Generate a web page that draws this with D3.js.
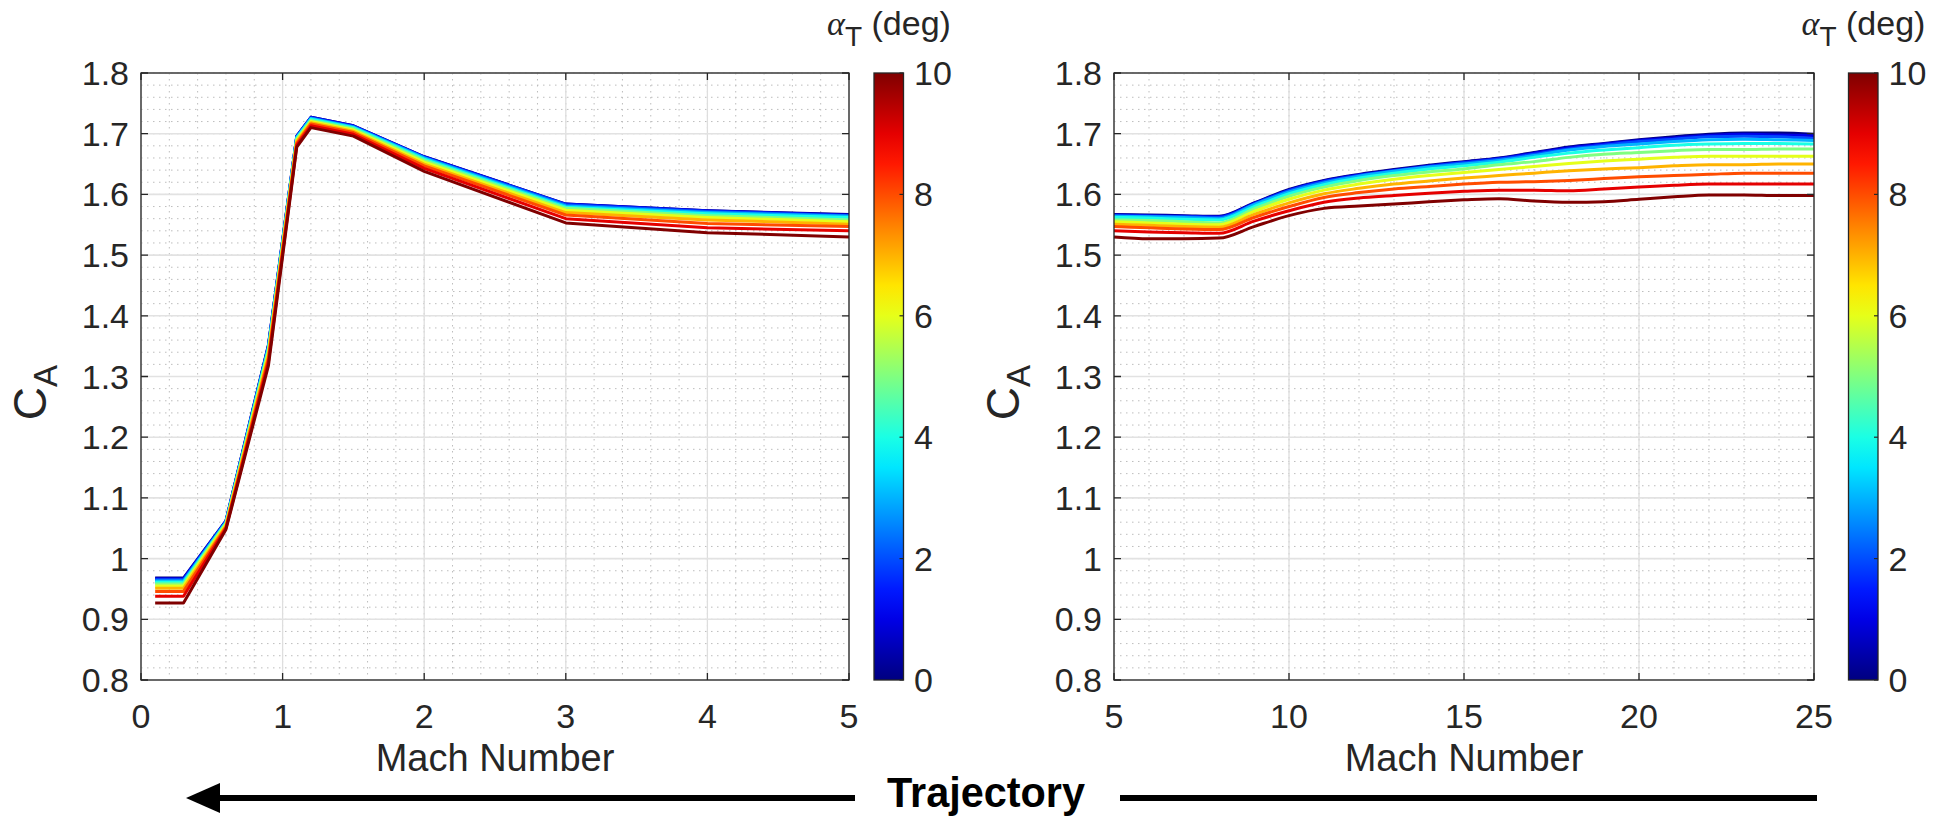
<!DOCTYPE html>
<html>
<head>
<meta charset="utf-8">
<script src="https://cdn.jsdelivr.net/npm/d3@7/dist/d3.min.js"></script>
<style>
  body { margin: 0; background: #fff; }
  svg { display: block; font-family: "Liberation Sans", Arial, Helvetica, sans-serif; }
</style>
</head>
<body>
<svg id="chart" width="1941" height="818"></svg>
<script>
// total angle of attack for each curve (deg)
const alphas = [0, 1, 2, 3, 4, 5, 6, 7, 8, 9, 10];

// low Mach panel
const machLow = [0.1, 0.3, 0.6, 0.9, 1.1, 1.2, 1.5, 2, 3, 4, 5];
const caLow = [
  [0.968, 0.968, 1.062, 1.352, 1.696, 1.727, 1.713, 1.662, 1.584, 1.573, 1.567],
  [0.967, 0.967, 1.062, 1.351, 1.696, 1.727, 1.713, 1.662, 1.584, 1.573, 1.566],
  [0.965, 0.965, 1.061, 1.350, 1.695, 1.726, 1.712, 1.661, 1.583, 1.572, 1.565],
  [0.963, 0.963, 1.060, 1.348, 1.694, 1.725, 1.711, 1.660, 1.581, 1.570, 1.564],
  [0.961, 0.961, 1.059, 1.346, 1.693, 1.724, 1.710, 1.658, 1.579, 1.568, 1.562],
  [0.958, 0.958, 1.058, 1.343, 1.691, 1.722, 1.708, 1.656, 1.577, 1.565, 1.558],
  [0.955, 0.955, 1.056, 1.339, 1.689, 1.720, 1.706, 1.653, 1.574, 1.562, 1.555],
  [0.951, 0.951, 1.054, 1.335, 1.687, 1.718, 1.704, 1.650, 1.570, 1.558, 1.551],
  [0.946, 0.946, 1.052, 1.330, 1.684, 1.716, 1.702, 1.647, 1.566, 1.552, 1.547],
  [0.938, 0.938, 1.050, 1.324, 1.681, 1.713, 1.699, 1.643, 1.560, 1.545, 1.540],
  [0.927, 0.927, 1.048, 1.318, 1.678, 1.710, 1.696, 1.638, 1.553, 1.537, 1.530]
];

// high Mach panel
const machHigh = [5, 6, 7, 8, 9, 10, 11, 12, 13, 14, 15, 16, 17, 18, 19, 20, 21, 22, 23, 24, 25];
const caHigh = [
  [1.567, 1.566, 1.565, 1.564, 1.586, 1.608, 1.623, 1.633, 1.641, 1.648, 1.654, 1.660, 1.669, 1.678, 1.684, 1.690, 1.695, 1.699, 1.701, 1.701, 1.699],
  [1.566, 1.565, 1.564, 1.563, 1.585, 1.607, 1.622, 1.632, 1.640, 1.647, 1.653, 1.659, 1.668, 1.677, 1.683, 1.689, 1.693, 1.697, 1.699, 1.698, 1.697],
  [1.565, 1.564, 1.563, 1.562, 1.584, 1.606, 1.621, 1.631, 1.639, 1.646, 1.652, 1.658, 1.666, 1.675, 1.681, 1.687, 1.691, 1.695, 1.696, 1.695, 1.692],
  [1.564, 1.563, 1.562, 1.560, 1.583, 1.604, 1.619, 1.630, 1.638, 1.645, 1.650, 1.656, 1.664, 1.673, 1.679, 1.683, 1.687, 1.690, 1.691, 1.690, 1.689],
  [1.562, 1.561, 1.559, 1.558, 1.580, 1.601, 1.616, 1.627, 1.635, 1.642, 1.647, 1.653, 1.661, 1.668, 1.673, 1.677, 1.681, 1.683, 1.684, 1.684, 1.683],
  [1.558, 1.557, 1.555, 1.553, 1.576, 1.597, 1.612, 1.623, 1.631, 1.637, 1.642, 1.649, 1.654, 1.661, 1.666, 1.669, 1.672, 1.674, 1.674, 1.675, 1.675],
  [1.555, 1.553, 1.551, 1.550, 1.572, 1.592, 1.607, 1.617, 1.625, 1.631, 1.636, 1.641, 1.646, 1.651, 1.655, 1.658, 1.661, 1.663, 1.663, 1.663, 1.663],
  [1.551, 1.549, 1.547, 1.546, 1.567, 1.586, 1.601, 1.610, 1.617, 1.622, 1.627, 1.631, 1.635, 1.639, 1.642, 1.644, 1.647, 1.649, 1.649, 1.650, 1.650],
  [1.547, 1.545, 1.543, 1.542, 1.562, 1.580, 1.595, 1.603, 1.609, 1.613, 1.617, 1.620, 1.621, 1.623, 1.626, 1.629, 1.631, 1.633, 1.635, 1.635, 1.635],
  [1.540, 1.538, 1.537, 1.536, 1.556, 1.573, 1.587, 1.594, 1.598, 1.602, 1.605, 1.607, 1.607, 1.606, 1.609, 1.612, 1.615, 1.617, 1.617, 1.617, 1.617],
  [1.530, 1.527, 1.527, 1.528, 1.547, 1.565, 1.577, 1.581, 1.584, 1.588, 1.591, 1.593, 1.589, 1.587, 1.588, 1.592, 1.596, 1.599, 1.599, 1.598, 1.598]
];

const yTicks = [0.8, 0.9, 1, 1.1, 1.2, 1.3, 1.4, 1.5, 1.6, 1.7, 1.8];
const xTicksLow = [0, 1, 2, 3, 4, 5];
const xTicksHigh = [5, 10, 15, 20, 25];
const cbTicks = [0, 2, 4, 6, 8, 10];

const txt = "#262626";
const svg = d3.select("#chart");

// MATLAB-style jet colormap
function jet(t) {
  const c = v => Math.round(255 * Math.max(0, Math.min(1, v)));
  return d3.rgb(c(1.5 - Math.abs(4 * t - 3)), c(1.5 - Math.abs(4 * t - 2)), c(1.5 - Math.abs(4 * t - 1))).formatHex();
}

const defs = svg.append("defs");
const grad = defs.append("linearGradient").attr("id", "jetGrad")
  .attr("x1", 0).attr("y1", 1).attr("x2", 0).attr("y2", 0);
d3.range(0, 1.0001, 0.05).forEach(t => {
  grad.append("stop").attr("offset", t).attr("stop-color", jet(t));
});

const plotTop = 73, plotBottom = 680;

function panel(opt) {
  const x = d3.scaleLinear().domain(opt.xDomain).range([opt.left, opt.right]);
  const y = d3.scaleLinear().domain([0.8, 1.8]).range([plotBottom, plotTop]);
  const g = svg.append("g");

  // minor grid
  g.append("g").selectAll("line").data(opt.xMinor).join("line")
    .attr("x1", d => x(d)).attr("x2", d => x(d)).attr("y1", plotTop).attr("y2", plotBottom)
    .attr("stroke", "#bdbdbd").attr("stroke-width", 1).attr("stroke-dasharray", "1.5,4.5");
  g.append("g").selectAll("line").data(d3.range(0.82, 1.8, 0.02)).join("line")
    .attr("x1", opt.left).attr("x2", opt.right).attr("y1", d => y(d)).attr("y2", d => y(d))
    .attr("stroke", "#bdbdbd").attr("stroke-width", 1).attr("stroke-dasharray", "1.5,4.5");

  // major grid
  g.append("g").selectAll("line").data(opt.xTicks).join("line")
    .attr("x1", d => x(d)).attr("x2", d => x(d)).attr("y1", plotTop).attr("y2", plotBottom)
    .attr("stroke", "#dedede").attr("stroke-width", 1.3);
  g.append("g").selectAll("line").data(yTicks).join("line")
    .attr("x1", opt.left).attr("x2", opt.right).attr("y1", d => y(d)).attr("y2", d => y(d))
    .attr("stroke", "#e2e2e2").attr("stroke-width", 1.6);

  // curves
  const line = d3.line().x(d => x(d[0])).y(d => y(d[1])).curve(opt.curve);
  const series = alphas.map((a, j) => ({ a, pts: opt.mach.map((m, i) => [m, opt.ca[j][i]]) }));
  g.append("g").selectAll("path").data(series).join("path")
    .attr("d", d => line(d.pts))
    .attr("fill", "none")
    .attr("stroke", d => jet(d.a / 10))
    .attr("stroke-width", 3)
    .attr("stroke-linejoin", "round");

  // box and ticks
  g.append("rect").attr("x", opt.left).attr("y", plotTop)
    .attr("width", opt.right - opt.left).attr("height", plotBottom - plotTop)
    .attr("fill", "none").attr("stroke", txt).attr("stroke-width", 1.3);
  const tl = 7;
  g.append("g").selectAll("path").data(opt.xTicks).join("path")
    .attr("d", d => `M${x(d)},${plotBottom}v${-tl}M${x(d)},${plotTop}v${tl}`)
    .attr("stroke", txt).attr("stroke-width", 1.3);
  g.append("g").selectAll("path").data(yTicks).join("path")
    .attr("d", d => `M${opt.left},${y(d)}h${tl}M${opt.right},${y(d)}h${-tl}`)
    .attr("stroke", txt).attr("stroke-width", 1.3);

  // tick labels
  g.append("g").selectAll("text").data(opt.xTicks).join("text")
    .attr("x", d => x(d)).attr("y", 728).attr("text-anchor", "middle")
    .attr("font-size", 34).attr("fill", txt).text(d => d);
  g.append("g").selectAll("text").data(yTicks).join("text")
    .attr("x", opt.left - 12).attr("y", d => y(d) + 12).attr("text-anchor", "end")
    .attr("font-size", 34).attr("fill", txt).text(d => String(+d.toFixed(1)));

  // axis labels
  g.append("text").attr("x", (opt.left + opt.right) / 2).attr("y", 771)
    .attr("text-anchor", "middle").attr("font-size", 38).attr("fill", txt).text("Mach Number");
  const yl = g.append("text").attr("transform", `translate(${opt.left - 95},${(plotTop + plotBottom) / 2 + 16}) rotate(-90)`)
    .attr("text-anchor", "middle").attr("font-size", 46).attr("fill", txt);
  yl.append("tspan").text("C");
  yl.append("tspan").attr("font-size", 33).attr("dy", 11).text("A");

  // colorbar
  const cb = d3.scaleLinear().domain([0, 10]).range([plotBottom, plotTop]);
  g.append("rect").attr("x", opt.cb).attr("y", plotTop).attr("width", 29.5).attr("height", plotBottom - plotTop)
    .attr("fill", "url(#jetGrad)").attr("stroke", txt).attr("stroke-width", 1.3);
  g.append("g").selectAll("path").data(cbTicks).join("path")
    .attr("d", d => `M${opt.cb + 29.5},${cb(d)}h-4`).attr("stroke", txt).attr("stroke-width", 1.2);
  g.append("g").selectAll("text").data(cbTicks).join("text")
    .attr("x", opt.cb + 40).attr("y", d => cb(d) + 12)
    .attr("font-size", 34).attr("fill", txt).text(d => d);
  const ct = g.append("text").attr("x", opt.cb + 15).attr("y", 35)
    .attr("text-anchor", "middle").attr("font-size", 34).attr("fill", txt);
  ct.append("tspan").attr("font-family", "'Liberation Serif', serif").attr("font-style", "italic").text("α");
  ct.append("tspan").attr("font-size", 28).attr("dy", 11).text("T");
  ct.append("tspan").attr("dy", -11).text(" (deg)");
}

panel({
  left: 141, right: 849, cb: 874, xDomain: [0, 5], xTicks: xTicksLow,
  xMinor: d3.range(0.2, 5, 0.2), mach: machLow, ca: caLow, curve: d3.curveLinear
});
panel({
  left: 1114, right: 1814, cb: 1848.5, xDomain: [5, 25], xTicks: xTicksHigh,
  xMinor: d3.range(6, 25, 1), mach: machHigh, ca: caHigh, curve: d3.curveMonotoneX
});

// trajectory arrow
const ay = 798;
svg.append("line").attr("x1", 212).attr("x2", 855).attr("y1", ay).attr("y2", ay)
  .attr("stroke", "#000").attr("stroke-width", 6);
svg.append("path").attr("d", `M186,${ay}L220,${ay - 15}L220,${ay + 15}Z`).attr("fill", "#000");
svg.append("line").attr("x1", 1120).attr("x2", 1817).attr("y1", ay).attr("y2", ay)
  .attr("stroke", "#000").attr("stroke-width", 6);
svg.append("text").attr("x", 986).attr("y", 807).attr("text-anchor", "middle")
  .attr("font-size", 43).attr("font-weight", "bold").attr("fill", "#000")
  .attr("textLength", 198).attr("lengthAdjust", "spacingAndGlyphs").text("Trajectory");
</script>
</body>
</html>
